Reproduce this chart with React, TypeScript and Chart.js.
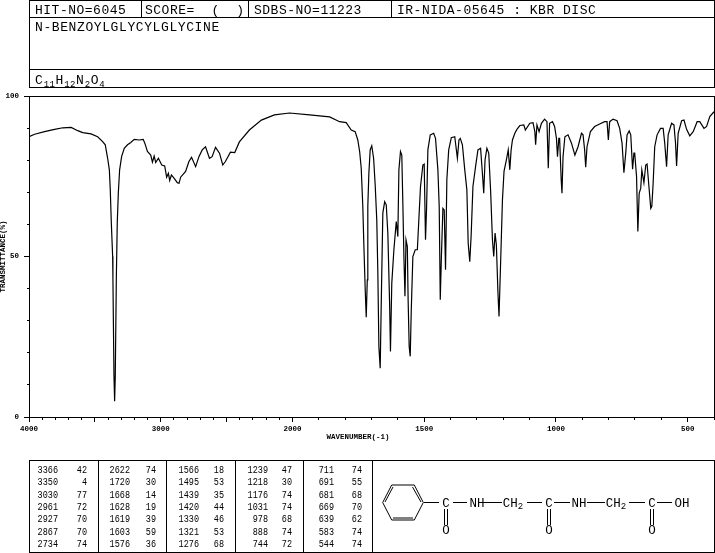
import React, { useEffect, useRef } from "react";
import { Chart, registerables } from "chart.js";

Chart.register(...registerables);

const MONO = '"Liberation Mono", monospace';

const wavenumbers = [
  4000, 3957, 3882, 3806, 3743, 3680, 3630, 3592, 3529, 3479, 3441, 3421, 3403, 3390, 3383, 3375, 3365, 3363, 3355, 3350,
  3345, 3337, 3330, 3322, 3312, 3297, 3277, 3252, 3227, 3201, 3164, 3133, 3121, 3101, 3076, 3063, 3050, 3038, 3018, 2992,
  2970, 2955, 2942, 2932, 2919, 2899, 2874, 2861, 2849, 2811, 2786, 2766, 2735, 2710, 2685, 2660, 2630, 2610, 2584, 2554,
  2529, 2509, 2471, 2438, 2403, 2327, 2236, 2137, 2023, 1935, 1859, 1821, 1796, 1777, 1762, 1752, 1745, 1739, 1733, 1729,
  1724, 1720, 1716, 1714, 1710, 1705, 1699, 1692, 1686, 1680, 1676, 1672, 1667, 1663, 1657, 1650, 1644, 1638, 1631, 1628,
  1623, 1615, 1606, 1600, 1596, 1590, 1585, 1581, 1577, 1573, 1569, 1564, 1561, 1557, 1553, 1549, 1543, 1534, 1526, 1520,
  1514, 1505, 1500, 1495, 1491, 1486, 1477, 1464, 1457, 1448, 1443, 1439, 1435, 1429, 1424, 1419, 1414, 1407, 1397, 1384,
  1374, 1368, 1363, 1355, 1346, 1338, 1333, 1327, 1322, 1315, 1305, 1296, 1286, 1279, 1274, 1269, 1262, 1255, 1248, 1241,
  1236, 1231, 1226, 1220, 1216, 1210, 1203, 1197, 1188, 1181, 1175, 1170, 1165, 1156, 1148, 1137, 1122, 1116, 1099, 1087,
  1080, 1077, 1072, 1064, 1055, 1043, 1034, 1029, 1024, 1013, 1005, 998, 994, 989, 986, 980, 977, 973, 966, 954,
  941, 928, 916, 903, 897, 891, 887, 882, 869, 853, 834, 815, 806, 801, 796, 783, 768, 758, 749, 742,
  735, 730, 722, 716, 709, 704, 701, 694, 689, 684, 678, 674, 666, 659, 654, 647, 640, 636, 631, 625,
  616, 603, 593, 587, 580, 574, 561, 552, 546, 542, 536, 523, 514, 504, 492, 479, 464, 454, 438, 428,
  416, 400,
];

const transmittance = [
  87.3, 88.1, 88.9, 89.6, 90.1, 90.2, 89.2, 88.6, 88.2, 87.3, 85.8, 84.8, 80.6, 77.0, 70.7, 60.4, 50.0, 43.3, 12.9, 4.9,
  12.9, 43.3, 60.4, 69.7, 77.0, 81.1, 83.7, 84.8, 85.5, 86.5, 86.3, 86.5, 85.3, 82.7, 81.6, 79.4, 81.3, 79.3, 80.6, 78.5,
  78.2, 74.7, 75.9, 73.7, 75.4, 74.4, 73.0, 72.8, 74.7, 76.5, 79.6, 80.9, 78.0, 81.1, 83.2, 84.2, 80.6, 81.1, 84.0, 82.2,
  78.5, 79.6, 82.5, 82.4, 85.7, 89.4, 92.5, 94.1, 94.7, 94.1, 93.5, 92.0, 91.7, 89.4, 88.9, 86.3, 82.7, 77.5, 65.6, 53.6,
  40.1, 31.1, 42.7, 65.6, 75.9, 83.2, 84.5, 80.6, 72.3, 61.4, 45.3, 22.0, 15.2, 35.5, 63.5, 67.1, 66.1, 57.3, 34.4, 20.4,
  41.7, 52.1, 60.9, 56.2, 77.0, 82.7, 81.6, 66.6, 50.0, 37.6, 55.2, 53.1, 36.5, 22.0, 18.9, 33.4, 50.0, 52.1, 52.1, 61.9,
  71.8, 78.5, 78.8, 55.2, 65.0, 83.2, 87.9, 88.4, 86.8, 77.0, 65.6, 36.5, 49.0, 65.0, 64.5, 45.9, 73.9, 83.2, 87.0, 87.3,
  80.6, 86.3, 86.8, 84.8, 77.0, 70.7, 54.1, 48.4, 56.2, 71.8, 78.0, 83.2, 83.7, 75.9, 69.7, 80.1, 83.7, 82.2, 70.7, 55.2,
  50.0, 57.3, 53.6, 38.6, 31.3, 47.9, 67.6, 76.5, 80.1, 83.2, 77.0, 83.2, 86.3, 88.4, 89.6, 90.8, 91.0, 89.4, 91.5, 91.7,
  88.9, 84.8, 91.0, 88.9, 91.5, 92.8, 92.0, 77.5, 91.5, 92.0, 90.5, 86.8, 81.1, 86.8, 86.8, 73.9, 69.7, 81.1, 87.3, 87.9,
  85.3, 81.6, 84.2, 88.4, 87.9, 83.2, 77.8, 84.2, 88.9, 90.5, 91.3, 92.0, 92.0, 86.3, 92.0, 92.8, 92.3, 89.9, 85.3, 76.1,
  82.2, 87.9, 89.1, 87.9, 77.2, 82.2, 82.2, 74.9, 57.8, 69.7, 71.3, 77.0, 73.0, 78.5, 78.8, 71.8, 65.0, 65.6, 72.8, 84.2,
  87.9, 89.9, 89.9, 85.3, 78.0, 87.9, 91.5, 91.0, 85.3, 78.2, 88.4, 92.3, 92.5, 89.6, 87.6, 88.9, 92.0, 92.0, 89.9, 90.5,
  93.6, 95.1,
];

const xMajorTicks = [4000, 3500, 3000, 2500, 2000, 1500, 1000, 500];
const xTickLabels = ["4000", "", "3000", "", "2000", "1500", "1000", "500"];
const xMinorTicks = [
  3900, 3800, 3700, 3600, 3400, 3300, 3200, 3100, 2900, 2800, 2700, 2600, 2400, 2300, 2200, 2100,
  1900, 1800, 1700, 1600, 1400, 1300, 1200, 1100, 900, 800, 700, 600, 400,
];
const yMajorTicks = [0, 50, 100];
const yMinorTicks = [10, 20, 30, 40, 60, 70, 80, 90];

const peakWavenumbers = [
  ["3366", "3350", "3030", "2961", "2927", "2867", "2734"],
  ["2622", "1720", "1668", "1628", "1619", "1603", "1576"],
  ["1566", "1495", "1439", "1420", "1330", "1321", "1276"],
  ["1239", "1218", "1176", "1031", "978", "888", "744"],
  ["711", "691", "681", "669", "639", "583", "544"],
];
const peakValues = [
  ["42", "4", "77", "72", "70", "70", "74"],
  ["74", "30", "14", "19", "39", "59", "36"],
  ["18", "53", "35", "44", "46", "53", "68"],
  ["47", "30", "74", "74", "68", "74", "72"],
  ["74", "55", "68", "70", "62", "74", "74"],
];
const peakNumberRight = [58, 130, 199, 268, 334];
const peakValueRight = [87, 156, 224, 292, 362];

// The wavenumber axis doubles its scale below 2000 cm-1.
const axisPos = (w: number) => (w >= 2000 ? 4000 - w : 2000 + (2000 - w) * 2);

const spectrum = wavenumbers.map((w, i) => ({ x: axisPos(w), y: transmittance[i] }));

const frameAndMinorTicks = {
  id: "frameAndMinorTicks",
  afterDraw(chart: any) {
    const { ctx, chartArea, scales } = chart;
    const left = Math.floor(chartArea.left);
    const right = Math.floor(chartArea.right);
    const top = Math.floor(chartArea.top);
    const bottom = Math.floor(chartArea.bottom);
    ctx.save();
    ctx.fillStyle = "#000";
    ctx.fillRect(left, top, right - left + 1, 1);
    ctx.fillRect(right, top, 1, bottom - top + 1);
    for (const w of xMinorTicks) {
      ctx.fillRect(Math.floor(scales.x.getPixelForValue(axisPos(w))), bottom, 1, 3);
    }
    for (const v of yMinorTicks) {
      ctx.fillRect(left - 2, Math.floor(scales.y.getPixelForValue(v)), 2, 1);
    }
    ctx.restore();
  },
};

const axisFont = { family: MONO, size: 7.5, weight: "bold" as const };

function Spectrum() {
  const ref = useRef<HTMLCanvasElement>(null);
  useEffect(() => {
    const chart = new Chart(ref.current!, {
      type: "line",
      data: {
        datasets: [
          {
            data: spectrum,
            borderColor: "#000",
            borderWidth: 1.2,
            pointRadius: 0,
            tension: 0,
            fill: false,
          },
        ],
      },
      options: {
        animation: false,
        responsive: false,
        devicePixelRatio: 1,
        layout: { padding: { top: 96, right: 1, bottom: 111, left: 0 } },
        plugins: { legend: { display: false }, tooltip: { enabled: false } },
        scales: {
          x: {
            type: "linear",
            min: 0,
            max: 5200,
            afterBuildTicks: (s: any) => {
              s.ticks = xMajorTicks.map((w) => ({ value: axisPos(w) }));
            },
            afterFit: (s: any) => {
              s.height = 25;
            },
            ticks: {
              autoSkip: false,
              maxRotation: 0,
              padding: 3,
              color: "#000",
              font: axisFont,
              callback: (_v: any, i: number) => xTickLabels[i],
            },
            grid: { drawOnChartArea: false, tickLength: 5, tickColor: "#000" },
            border: { color: "#000", width: 1 },
            title: {
              display: true,
              text: "WAVENUMBER(-1)      ",
              color: "#000",
              font: axisFont,
              padding: 0,
            },
          },
          y: {
            min: 0,
            max: 100,
            afterBuildTicks: (s: any) => {
              s.ticks = yMajorTicks.map((v) => ({ value: v }));
            },
            afterFit: (s: any) => {
              s.width = 29;
            },
            ticks: { padding: 5, color: "#000", font: axisFont },
            grid: { drawOnChartArea: false, tickLength: 5, tickColor: "#000" },
            border: { color: "#000", width: 1 },
            title: {
              display: true,
              text: "TRANSMITTANCE(%)",
              color: "#000",
              font: { ...axisFont, lineHeight: 0.7 },
              padding: 0,
            },
          },
        },
      },
      plugins: [frameAndMinorTicks],
    } as any);
    return () => chart.destroy();
  }, []);
  return <canvas ref={ref} width={715} height={553} style={{ position: "absolute", left: 0, top: 0, width: 715, height: 553 }} />;
}

const Ln = ({ a, b, c, d }: { a: number; b: number; c: number; d: number }) => (
  <line x1={a} y1={b} x2={c} y2={d} stroke="#000" strokeWidth={1} />
);

const headText = { fontFamily: MONO, fontSize: 13, letterSpacing: 0.5, fill: "#000", style: { whiteSpace: "pre" as const } };
const tableText = { fontFamily: MONO, fontSize: 11.5, fill: "#000", textAnchor: "end" as const, lengthAdjust: "spacingAndGlyphs" as const };
const chemText = { fontFamily: MONO, fontSize: 12.5, fill: "#000", textAnchor: "middle" as const };
const digitPitch = 5.1;

const carbonylX = [446, 549, 652];

function Overlay() {
  return (
    <svg width={715} height={553} style={{ position: "absolute", left: 0, top: 0, pointerEvents: "none" }}>
      <g shapeRendering="crispEdges">
        {[0.5, 17.5, 69.5, 87.5].map((y) => <Ln key={y} a={29} b={y} c={715} d={y} />)}
        {[29.5, 714.5].map((x) => <Ln key={x} a={x} b={0} c={x} d={88} />)}
        {[141.5, 248.5, 391.5].map((x) => <Ln key={x} a={x} b={0} c={x} d={17} />)}
        {[460.5, 552.5].map((y) => <Ln key={y} a={29} b={y} c={715} d={y} />)}
        {[29.5, 98.5, 166.5, 235.5, 303.5, 372.5, 714.5].map((x) => <Ln key={x} a={x} b={460} c={x} d={553} />)}
      </g>

      <text x={35} y={13.5} {...headText}>HIT-NO=6045</text>
      <text x={145} y={13.5} {...headText}>{"SCORE=  (  )"}</text>
      <text x={254} y={13.5} {...headText}>SDBS-NO=11223</text>
      <text x={397} y={13.5} {...headText}>IR-NIDA-05645 : KBR DISC</text>
      <text x={35} y={31} {...headText} letterSpacing={0.6}>N-BENZOYLGLYCYLGLYCINE</text>
      <text x={35} y={83.5} fontFamily={MONO} fontSize={13} fill="#000" letterSpacing={0.9}>
        C
        <tspan fontSize={9} letterSpacing={0.5} dy={3}>11</tspan>
        <tspan dy={-3}>H</tspan>
        <tspan fontSize={9} letterSpacing={0.5} dy={3}>12</tspan>
        <tspan dy={-3}>N</tspan>
        <tspan fontSize={9} letterSpacing={0.5} dy={3}>2</tspan>
        <tspan dy={-3}>O</tspan>
        <tspan fontSize={9} letterSpacing={0.5} dy={3}>4</tspan>
      </text>

      {peakWavenumbers.map((col, c) =>
        col.map((n, r) => (
          <g key={`${c}-${r}`}>
            <text x={peakNumberRight[c]} y={473 + r * 12.33} textLength={n.length * digitPitch} {...tableText}>{n}</text>
            <text x={peakValueRight[c]} y={473 + r * 12.33} textLength={peakValues[c][r].length * digitPitch} {...tableText}>{peakValues[c][r]}</text>
          </g>
        ))
      )}

      <g stroke="#000" strokeWidth={1} fill="none">
        <polygon points="382.7,502.5 391.7,485 414.3,485 423.3,502.5 414.3,520 391.7,520" />
        <line x1={385} y1={502} x2={393} y2={487} />
        <line x1={412.5} y1={487} x2={421} y2={502} />
        <line x1={393} y1={518} x2={413} y2={518} />
        <line x1={424} y1={502.5} x2={439} y2={502.5} />
        <line x1={453} y1={502.5} x2={467} y2={502.5} />
        <line x1={483} y1={502.5} x2={502} y2={502.5} />
        <line x1={527} y1={502.5} x2={542} y2={502.5} />
        <line x1={554} y1={502.5} x2={570} y2={502.5} />
        <line x1={587} y1={502.5} x2={605} y2={502.5} />
        <line x1={629} y1={502.5} x2={645} y2={502.5} />
        <line x1={657} y1={502.5} x2={672} y2={502.5} />
        {carbonylX.map((x) => (
          <g key={x}>
            <line x1={x - 1.5} y1={509} x2={x - 1.5} y2={525} />
            <line x1={x + 1.5} y1={509} x2={x + 1.5} y2={525} />
          </g>
        ))}
      </g>
      {carbonylX.map((x) => (
        <g key={x}>
          <text x={x} y={507} {...chemText}>C</text>
          <text x={x} y={534} {...chemText}>O</text>
        </g>
      ))}
      <text x={477} y={507} {...chemText}>NH</text>
      <text x={579} y={507} {...chemText}>NH</text>
      <text x={682} y={507} {...chemText}>OH</text>
      {[513, 616].map((x) => (
        <text key={x} x={x} y={507} {...chemText}>
          CH<tspan fontSize={9} dy={2}>2</tspan>
        </text>
      ))}
    </svg>
  );
}

export default function App() {
  return (
    <div style={{ position: "absolute", left: 0, top: 0, width: 715, height: 553, background: "#fff", overflow: "hidden" }}>
      <Spectrum />
      <Overlay />
    </div>
  );
}
